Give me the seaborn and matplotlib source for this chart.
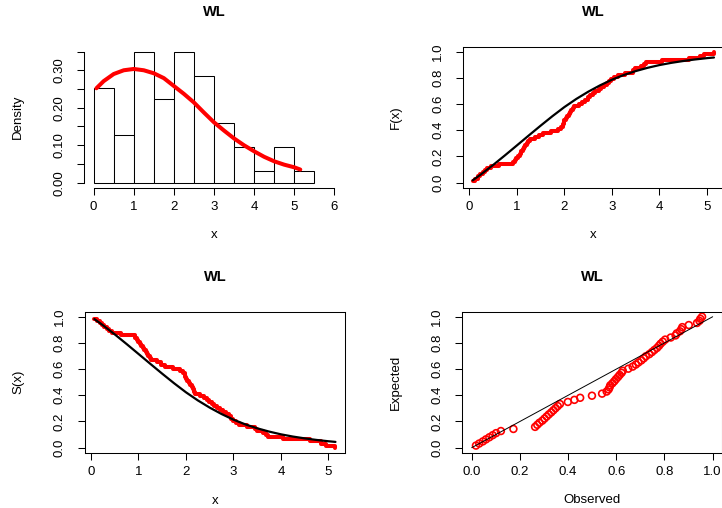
import numpy as np
import matplotlib
matplotlib.use('Agg')
import matplotlib.pyplot as plt
import seaborn as sns

# sample (read from the empirical cdf steps and the histogram counts)
wl_data = [0.07, 0.12, 0.18, 0.23, 0.28, 0.33, 0.38, 0.45,
           0.63, 0.93, 0.96, 0.99,
           1.03, 1.06, 1.09, 1.12, 1.15, 1.18, 1.21, 1.24, 1.27, 1.38, 1.47,
           1.55, 1.72, 1.87, 1.94, 1.97, 1.985, 1.995,
           2.03, 2.06, 2.09, 2.12, 2.15, 2.18, 2.20, 2.30, 2.38, 2.44, 2.49,
           2.55, 2.60, 2.65, 2.72, 2.78, 2.84, 2.90, 2.95, 2.99,
           3.05, 3.12, 3.28, 3.45, 3.49,
           3.62, 3.68, 3.72,
           4.05,
           4.62, 4.85, 4.95,
           5.15]
hist_edges = [0.0, 0.5, 1.0, 1.5, 2.0, 2.5, 3.0, 3.5, 4.0, 4.5, 5.0, 5.5]

# fitted WL density
dens_x = [0.07, 0.25, 0.5, 0.75, 1.0, 1.25, 1.5, 1.75, 2.0, 2.25, 2.5,
          2.75, 3.0, 3.25, 3.5, 3.75, 4.0, 4.25, 4.5, 4.75, 5.0, 5.15]
dens_y = [0.252, 0.271, 0.290, 0.300, 0.3035, 0.300, 0.292, 0.279, 0.258,
          0.237, 0.214, 0.187, 0.161, 0.139, 0.118, 0.0997, 0.0837, 0.069,
          0.057, 0.048, 0.041, 0.035]

# fitted WL cdf
cdf_x = dens_x
cdf_y = [0.0175, 0.0646, 0.1347, 0.2085, 0.284, 0.360, 0.435, 0.508, 0.577,
         0.639, 0.694, 0.743, 0.786, 0.822, 0.852, 0.877, 0.898, 0.915,
         0.929, 0.941, 0.951, 0.956]

# P-P plot, fitted cdf at each sorted observation
pp_observed = [0.0175, 0.031, 0.046, 0.059, 0.073, 0.087, 0.101, 0.121,
               0.173, 0.263, 0.272, 0.281,
               0.293, 0.302, 0.311, 0.320, 0.330, 0.339, 0.348, 0.357, 0.366, 0.399, 0.426,
               0.450, 0.499, 0.541, 0.560, 0.568, 0.572, 0.575,
               0.584, 0.592, 0.599, 0.607, 0.614, 0.622, 0.627, 0.650, 0.668, 0.681, 0.692,
               0.704, 0.714, 0.723, 0.737, 0.748, 0.758, 0.769, 0.777, 0.784,
               0.793, 0.803, 0.826, 0.846, 0.851,
               0.864, 0.870, 0.874,
               0.901,
               0.935, 0.945, 0.949,
               0.956]
ref_line = [0.0, 1.0]

W, H = 722, 508
sns.set_style('ticks')
plt.rcParams['font.family'] = ['Liberation Sans', 'DejaVu Sans']
plt.rcParams.update({'axes.edgecolor': 'black', 'text.color': 'black',
                     'axes.labelcolor': 'black', 'xtick.color': 'black',
                     'ytick.color': 'black', 'axes.linewidth': 0.75})

fig = plt.figure(figsize=(W / 100, H / 100), dpi=100)
red = '#FF0000'
fs = 9.5


def make_ax(x0, y0, x1, y1):
    return fig.add_axes([x0 / W, 1 - y1 / H, (x1 - x0) / W, (y1 - y0) / H])


def dress(ax, box, xlabel, ylabel, xlab_y, ylab_x, title_y):
    x0, y0, x1, y1 = box
    ax.tick_params(axis='both', direction='out', length=5, width=0.75,
                   labelsize=fs)
    ax.tick_params(axis='x', pad=4.5)
    ax.tick_params(axis='y', pad=8.5)
    for lab in ax.get_yticklabels():
        lab.set_rotation(90)
        lab.set_va('center')
    ax.set_xlabel(xlabel, fontsize=fs, va='center')
    ax.set_ylabel(ylabel, fontsize=fs, va='center')
    ax.xaxis.set_label_coords(0.5, (y1 - xlab_y) / (y1 - y0))
    ax.yaxis.set_label_coords((ylab_x - x0) / (x1 - x0), 0.5)
    ax.set_title('WL', fontsize=10.5, fontweight='bold', y=(y1 - title_y) / (y1 - y0),
                 va='center')


xs = np.sort(wl_data)
n = len(xs)
emp = np.arange(1, n + 1) / n

# histogram + density
b1 = (84, 46.3, 344, 187.9)
ax1 = make_ax(*b1)
sns.histplot(x=wl_data, bins=hist_edges, stat='density', color='white',
             edgecolor='black', linewidth=0.75, alpha=1, ax=ax1)
sns.lineplot(x=dens_x, y=dens_y, color=red, linewidth=2.9, estimator=None, ax=ax1)
ax1.set_xlim(-0.24, 6.24)
ax1.set_ylim(-0.014, 0.364)
ax1.set_xticks([0, 1, 2, 3, 4, 5, 6])
ax1.set_yticks([0, 0.05, 0.10, 0.15, 0.20, 0.25, 0.30, 0.35])
ax1.set_yticklabels(['0.00', '', '0.10', '', '0.20', '', '0.30', ''])
ax1.spines['top'].set_visible(False)
ax1.spines['right'].set_visible(False)
ax1.spines['left'].set_bounds(0, 0.35)
ax1.spines['bottom'].set_bounds(0, 6)
dress(ax1, b1, 'x', 'Density', 235, 18.3, 20)

# cdf
b2 = (463, 46.5, 723.6, 187.9)
ax2 = make_ax(*b2)
sns.lineplot(x=xs, y=emp, drawstyle='steps-post', color=red, linewidth=2.9,
             estimator=None, ax=ax2)
sns.lineplot(x=cdf_x, y=cdf_y, color='black', linewidth=1.6, estimator=None, ax=ax2)
ax2.set_xlim(-0.133, 5.353)
ax2.set_ylim(-0.04, 1.04)
ax2.set_xticks([0, 1, 2, 3, 4, 5])
ax2.set_yticks([0, 0.2, 0.4, 0.6, 0.8, 1.0])
ax2.set_yticklabels(['0.0', '0.2', '0.4', '0.6', '0.8', '1.0'])
dress(ax2, b2, 'x', 'F(x)', 235, 396, 20)

# survival
b3 = (84.7, 311.5, 345.1, 452.9)
ax3 = make_ax(*b3)
sns.lineplot(x=xs, y=1 - emp, drawstyle='steps-post', color=red, linewidth=2.9,
             estimator=None, ax=ax3)
sns.lineplot(x=cdf_x, y=1 - np.array(cdf_y), color='black', linewidth=1.6,
             estimator=None, ax=ax3)
ax3.set_xlim(-0.133, 5.353)
ax3.set_ylim(-0.04, 1.04)
ax3.set_xticks([0, 1, 2, 3, 4, 5])
ax3.set_yticks([0, 0.2, 0.4, 0.6, 0.8, 1.0])
ax3.set_yticklabels(['0.0', '0.2', '0.4', '0.6', '0.8', '1.0'])
dress(ax3, b3, 'x', 'S(x)', 500.7, 18.3, 285.7)

# P-P plot
b4 = (462.1, 311.5, 722.3, 452.9)
ax4 = make_ax(*b4)
sns.scatterplot(x=pp_observed, y=emp, marker='o', s=24, facecolors='none',
                edgecolor=red, linewidth=1.2, ax=ax4)
sns.lineplot(x=ref_line, y=ref_line, color='black', linewidth=0.7,
             estimator=None, ax=ax4)
ax4.set_xlim(-0.04, 1.04)
ax4.set_ylim(-0.04, 1.04)
ax4.set_xticks([0, 0.2, 0.4, 0.6, 0.8, 1.0])
ax4.set_xticklabels(['0.0', '0.2', '0.4', '0.6', '0.8', '1.0'])
ax4.set_yticks([0, 0.2, 0.4, 0.6, 0.8, 1.0])
ax4.set_yticklabels(['0.0', '0.2', '0.4', '0.6', '0.8', '1.0'])
dress(ax4, b4, 'Observed', 'Expected', 500, 396, 285.7)

fig.savefig('out.png', dpi=100)
